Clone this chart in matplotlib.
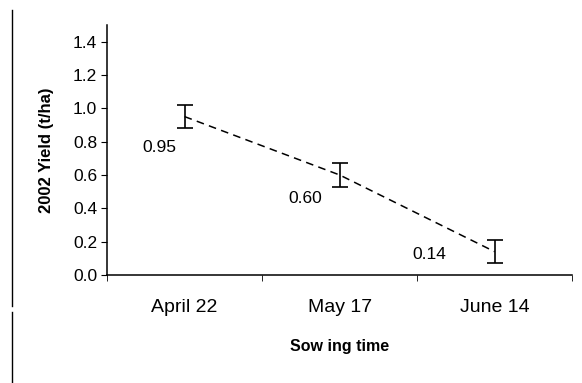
import matplotlib.pyplot as plt
import numpy as np
from matplotlib.lines import Line2D

plt.rcParams['font.family'] = ['Liberation Sans', 'DejaVu Sans']

sowing = ["April 22", "May 17", "June 14"]
yield_t = [0.95, 0.60, 0.14]
err = [0.07, 0.07, 0.07]
value_labels = ["0.95", "0.60", "0.14"]

# label offsets in points (rough)
label_offsets = [(-18, -22), (-25, -17), (-47, -2)]

fig = plt.figure(figsize=(5.82, 3.83), dpi=100)
ax = fig.add_axes([0.184, 0.282, 0.799, 0.653])

x = np.arange(len(sowing))
ax.errorbar(x, yield_t, yerr=err, fmt='none', ecolor='black',
            elinewidth=1.2, capsize=5.5, capthick=1.2)
ax.plot(x, yield_t, linestyle=(0, (5, 3.5)), color='black', linewidth=1.1)

for xi, yi, lab, off in zip(x, yield_t, value_labels, label_offsets):
    ax.annotate(lab, xy=(xi, yi), xytext=off, textcoords='offset points',
                ha='center', va='center', fontsize=12.5)

ax.set_xlim(-0.5, len(sowing) - 0.5)
ax.set_ylim(0, 1.5)
ax.set_yticks(np.arange(0, 1.41, 0.2))
ax.set_yticklabels([f"{v:.1f}" for v in np.arange(0, 1.41, 0.2)], fontsize=12.5)
ax.set_xticks(x)
ax.set_xticklabels(sowing, fontsize=14)
ax.set_xticks(np.arange(-0.5, len(sowing), 1.0), minor=True)
ax.tick_params(axis='x', which='major', length=0, pad=17)
ax.tick_params(axis='x', which='minor', length=4, direction='out')
ax.tick_params(axis='y', length=4, direction='out', pad=3)

for s in ['top', 'right']:
    ax.spines[s].set_visible(False)
for s in ['left', 'bottom']:
    ax.spines[s].set_linewidth(1.1)

ax.set_ylabel("2002 Yield (t/ha)", fontsize=12, fontweight='bold', labelpad=14)
ax.set_xlabel("Sow ing time", fontsize=11.5, fontweight='bold', labelpad=17)

# border line on the left of the scan
fig.add_artist(Line2D([0.021, 0.021], [0.2, 0.975], color='black', lw=1.0))
fig.add_artist(Line2D([0.021, 0.021], [0.0, 0.185], color='black', lw=1.0))

fig.savefig("out.png", dpi=100)
